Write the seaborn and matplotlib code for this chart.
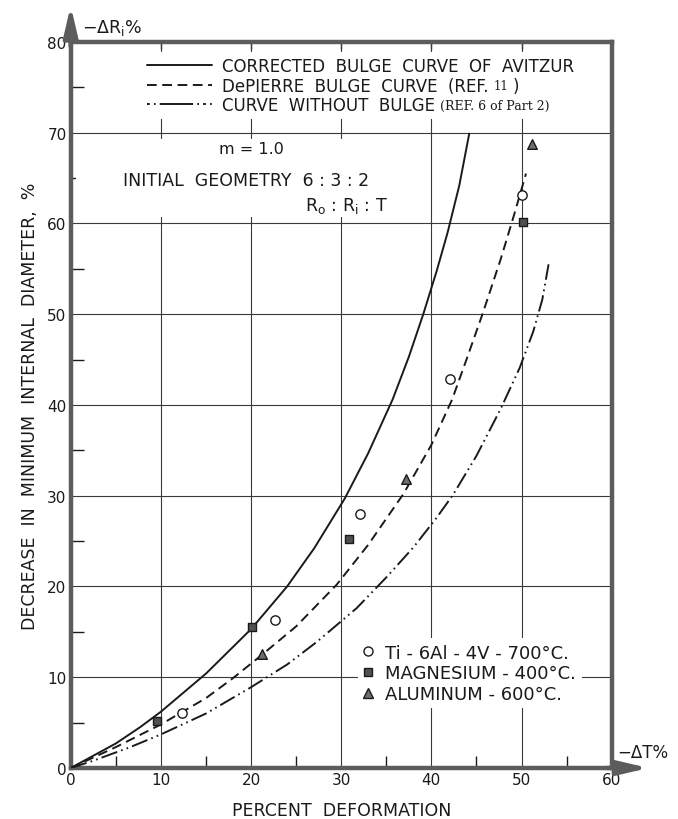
import pandas as pd
import seaborn as sns
import matplotlib.pyplot as plt
from matplotlib.lines import Line2D
from matplotlib.patches import Rectangle

sns.set_theme(style="white")
plt.rcParams['font.family'] = ['DejaVu Sans']
plt.rcParams['lines.scale_dashes'] = False

# curves: percent deformation vs decrease in internal diameter
avitzur_x = [0, 5, 7.7, 10, 15, 20, 24, 27, 30.4, 33, 35.7, 37.5, 39.1, 40.6, 41.8, 43.1, 44.2]
avitzur_y = [0, 2.7, 4.5, 6.2, 10.4, 15.3, 20.0, 24.2, 29.7, 34.7, 40.6, 45.3, 50.0, 54.8, 59.0, 64.2, 69.9]

depierre_x = [0, 5, 10, 15, 18, 21, 25, 29.5, 33, 36.9, 40, 42.3, 44, 45.7, 47.7, 49.1, 50.5]
depierre_y = [0, 2.3, 4.8, 7.7, 9.9, 12.3, 15.6, 20.2, 24.6, 30.2, 35.6, 40.6, 45.3, 50.1, 56.1, 60.7, 65.5]

nobulge_x = [0, 2.5, 6.6, 10, 15, 20, 24, 27.3, 31.7, 35, 38, 40.6, 42.4, 45, 47.7, 49.8, 51.3, 52.3, 53]
nobulge_y = [0, 0.8, 2.3, 3.7, 6.0, 8.9, 11.4, 13.9, 17.6, 21.0, 24.3, 27.6, 30.1, 34.4, 39.6, 44.1, 48.1, 51.6, 55.5]

# experimental points
ti_x = [12.3, 22.7, 32.1, 42.1, 50.1]
ti_y = [6.1, 16.3, 28.0, 42.9, 63.1]
mg_x = [9.6, 20.1, 30.9, 50.2]
mg_y = [5.2, 15.5, 25.2, 60.2]
al_x = [21.2, 37.2, 51.2]
al_y = [12.6, 31.8, 68.8]

curve_names = ["CORRECTED  BULGE  CURVE  OF  AVITZUR", "DePIERRE  BULGE  CURVE  (REF.", "CURVE  WITHOUT  BULGE"]
alloy_names = ["Ti - 6Al - 4V - 700°C.", "MAGNESIUM - 400°C.", "ALUMINUM - 600°C."]

x_ticks = [0, 10, 20, 30, 40, 50, 60]
y_ticks = [0, 10, 20, 30, 40, 50, 60, 70, 80]

curves = pd.concat([
    pd.DataFrame({"x": avitzur_x, "y": avitzur_y, "curve": curve_names[0]}),
    pd.DataFrame({"x": depierre_x, "y": depierre_y, "curve": curve_names[1]}),
    pd.DataFrame({"x": nobulge_x, "y": nobulge_y, "curve": curve_names[2]}),
])
points = pd.concat([
    pd.DataFrame({"x": ti_x, "y": ti_y, "alloy": alloy_names[0]}),
    pd.DataFrame({"x": mg_x, "y": mg_y, "alloy": alloy_names[1]}),
    pd.DataFrame({"x": al_x, "y": al_y, "alloy": alloy_names[2]}),
])

dash_map = {curve_names[0]: "", curve_names[1]: (7, 4),
            curve_names[2]: (12, 3, 1.2, 3, 1.2, 3)}
marker_map = {alloy_names[0]: "o", alloy_names[1]: "s", alloy_names[2]: "^"}
face_map = {alloy_names[0]: "white", alloy_names[1]: "#505050", alloy_names[2]: "#6e6e6e"}
size_map = {alloy_names[0]: 45, alloy_names[1]: 38, alloy_names[2]: 48}

ink = "#1a1a1a"
spine_col = "#5c5c5c"

fig = plt.figure(figsize=(6.78, 8.2), dpi=100)
ax = fig.add_axes([0.1043, 0.0622, 0.7979, 0.8854])

sns.lineplot(data=curves, x="x", y="y", style="curve", dashes=dash_map,
             color=ink, lw=1.4, sort=False, legend=False, ax=ax, zorder=3)
for name in alloy_names:
    sub = points[points.alloy == name]
    sns.scatterplot(data=sub, x="x", y="y", marker=marker_map[name], s=size_map[name],
                    color=face_map[name], edgecolor=ink, linewidth=1.0,
                    legend=False, ax=ax, zorder=4)

ax.set_xlim(0, 60)
ax.set_ylim(0, 80)
ax.set_xticks(x_ticks)
ax.set_yticks(y_ticks)
ax.set_xticks(range(5, 60, 10), minor=True)
ax.set_yticks(range(5, 80, 10), minor=True)
ax.grid(True, which="major", color="#3a3a3a", lw=0.8)
ax.set_axisbelow(True)
ax.tick_params(which="major", length=0, labelsize=11, labelcolor=ink, pad=3)
ax.tick_params(which="minor", direction="in", length=9, width=1.0, color=ink,
               bottom=True, left=True)
top = ax.secondary_xaxis("top")
top.set_xticks([10, 20, 30, 40, 50])
top.tick_params(direction="in", length=5, width=1.0, color=ink, labeltop=False)
top.spines["top"].set_visible(False)

for sp in ax.spines.values():
    sp.set_color(spine_col)
    sp.set_linewidth(3.2)
    sp.set_visible(True)

ax.set_xlabel("PERCENT  DEFORMATION", fontsize=12.5, color=ink, labelpad=10)
ax.set_ylabel("DECREASE  IN  MINIMUM  INTERNAL  DIAMETER,  %", fontsize=12.5, color=ink, labelpad=6)

# axis arrows
arrow = dict(arrowstyle="-|>,head_length=1.2,head_width=0.28", color=spine_col,
             lw=3.2, mutation_scale=15, shrinkA=0, shrinkB=0)
ax.annotate("", xy=(0, 84), xytext=(0, 79.5), arrowprops=arrow, annotation_clip=False)
ax.annotate("", xy=(64.1, 0), xytext=(59.5, 0), arrowprops=arrow, annotation_clip=False)
ax.text(1.2, 81.7, "−ΔR$_\\mathregular{i}$%", fontsize=12.5, color=ink, ha="left", va="center")
ax.text(60.6, 1.8, "−ΔT%", fontsize=12, color=ink, ha="left", va="center")

# notes block
ax.add_patch(Rectangle((0.6, 60.7), 36, 8.6, facecolor="white", edgecolor="none", zorder=1.5))
ax.text(20.0, 68.3, "m = 1.0", fontsize=11.5, color=ink, ha="center", va="center", zorder=3)
ax.text(5.8, 64.8, "INITIAL  GEOMETRY  6 : 3 : 2", fontsize=12.5, color=ink, ha="left", va="center", zorder=3)
ax.text(26.0, 62.0, "R$_\\mathregular{o}$ : R$_\\mathregular{i}$ : T", fontsize=12.5, color=ink,
        ha="left", va="center", zorder=3)

# legend for the curves
curve_handles = [Line2D([], [], color=ink, lw=1.4, linestyle="-"),
                 Line2D([], [], color=ink, lw=1.4, dashes=(7, 4)),
                 Line2D([], [], color=ink, lw=1.4, dashes=(2, 3, 1.2, 3, 24, 3, 1.2, 3))]
leg1 = ax.legend(curve_handles, curve_names, loc="upper left", bbox_to_anchor=(7.9, 78.9),
                 bbox_transform=ax.transData, borderaxespad=0, borderpad=0.3,
                 fontsize=12, handlelength=3.9, handletextpad=0.6, labelspacing=0.1,
                 frameon=True, fancybox=False, facecolor="white", edgecolor="none", framealpha=1)
for t in leg1.get_texts():
    t.set_color(ink)
ax.add_artist(leg1)

alloy_handles = [Line2D([], [], ls="none", marker="o", ms=6.5, mfc="white", mec=ink, mew=1.0),
                 Line2D([], [], ls="none", marker="s", ms=6, mfc="#505050", mec=ink, mew=1.0),
                 Line2D([], [], ls="none", marker="^", ms=7, mfc="#6e6e6e", mec=ink, mew=1.0)]
leg2 = ax.legend(alloy_handles, alloy_names, loc="upper left", bbox_to_anchor=(31.9, 14.3),
                 bbox_transform=ax.transData, borderaxespad=0, borderpad=0.3,
                 fontsize=13, handlelength=0.5, handletextpad=0.7, labelspacing=0.15,
                 frameon=True, fancybox=False, facecolor="white", edgecolor="none", framealpha=1)
for t in leg2.get_texts():
    t.set_color(ink)

fig.canvas.draw()
txts = leg1.get_texts()
ref11 = ax.annotate("11", xy=(1, 0.12), xycoords=txts[1], xytext=(4, 0), textcoords="offset points",
                    fontsize=8.5, family="DejaVu Serif", color=ink, va="bottom", ha="left", zorder=6)
ax.annotate(")", xy=(1, 0), xycoords=ref11, xytext=(3, -1.8), textcoords="offset points",
            fontsize=12, color=ink, va="bottom", ha="left", zorder=6)
ax.annotate("(REF. 6 of Part 2)", xy=(1, 0.15), xycoords=txts[2], xytext=(4, 0),
            textcoords="offset points", fontsize=9, family="DejaVu Serif", color=ink,
            va="bottom", ha="left", zorder=6)

fig.savefig("out.png", dpi=100)
